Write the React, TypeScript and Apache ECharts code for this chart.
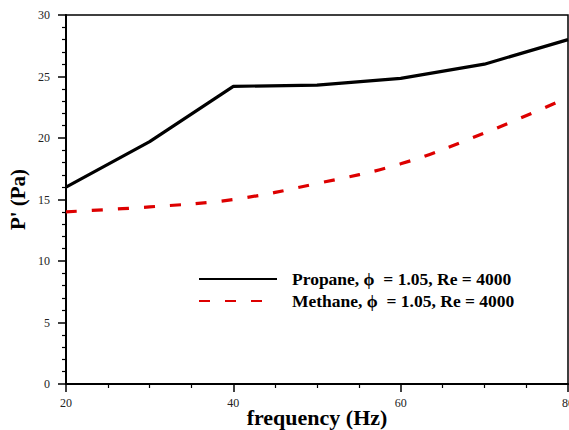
import React, { useEffect, useRef } from "react";
import * as echarts from "echarts";

const frequency = [20, 30, 40, 50, 60, 70, 80];
const propane = [16.0, 19.7, 24.2, 24.3, 24.85, 26.0, 28.0];
const methane = [14.0, 14.4, 15.0, 16.3, 17.9, 20.4, 23.3];
const seriesNames = [
  "Propane, \u03D5\u00A0 = 1.05, Re = 4000",
  "Methane, \u03D5\u00A0 = 1.05, Re = 4000",
];

const FONT = "'Liberation Serif', 'DejaVu Serif', serif";

export default function App() {
  const ref = useRef<HTMLDivElement>(null);
  useEffect(() => {
    if (!ref.current) return;
    const chart = echarts.init(ref.current, null, { renderer: "svg" });
    chart.setOption({
      animation: false,
      backgroundColor: "#ffffff",
      grid: {
        left: 66,
        right: 1,
        top: 15,
        bottom: 46,
        outerBoundsMode: "none",
        containLabel: false,
        show: true,
        borderColor: "#000",
        borderWidth: 1.5,
        backgroundColor: "transparent",
      },
      legend: {
        orient: "vertical",
        left: 198,
        top: 270,
        padding: 0,
        itemWidth: 78,
        itemHeight: 14,
        itemGap: 4,
        data: seriesNames,
        itemStyle: { opacity: 0 },
        textStyle: {
          fontFamily: FONT,
          fontWeight: "bold",
          fontSize: 17.5,
          color: "#000",
          padding: [0, 0, 0, 10],
        },
      },
      xAxis: {
        type: "value",
        min: 20,
        max: 80,
        interval: 20,
        name: "frequency (Hz)",
        nameLocation: "middle",
        nameGap: 33,
        nameMoveOverlap: false,
        nameTextStyle: {
          fontFamily: FONT,
          fontWeight: "bold",
          fontSize: 22,
          color: "#000",
          verticalAlign: "middle",
        },
        axisLine: { show: true, lineStyle: { color: "#000", width: 2 } },
        axisTick: { show: true, inside: false, length: 8, lineStyle: { color: "#000", width: 1.5 } },
        minorTick: { show: true, splitNumber: 4, length: 4, lineStyle: { color: "#000", width: 1.2 } },
        splitLine: { show: false },
        axisLabel: {
          margin: 13,
          fontFamily: FONT,
          fontSize: 12,
          color: "#222",
        },
      },
      yAxis: {
        type: "value",
        min: 0,
        max: 30,
        interval: 5,
        name: "P' (Pa)",
        nameLocation: "middle",
        nameGap: 48,
        nameMoveOverlap: false,
        nameTextStyle: {
          fontFamily: FONT,
          fontWeight: "bold",
          fontSize: 21,
          color: "#000",
          verticalAlign: "middle",
        },
        axisLine: { show: true, lineStyle: { color: "#000", width: 2 } },
        axisTick: { show: true, inside: false, length: 8, lineStyle: { color: "#000", width: 1.5 } },
        minorTick: { show: true, splitNumber: 5, length: 4, lineStyle: { color: "#000", width: 1.2 } },
        splitLine: { show: false },
        axisLabel: {
          margin: 16,
          fontFamily: FONT,
          fontSize: 12,
          color: "#222",
        },
      },
      series: [
        {
          name: seriesNames[0],
          type: "line",
          data: frequency.map((f, i) => [f, propane[i]]),
          showSymbol: false,
          symbol: "none",
          lineStyle: { color: "#000", width: 3.2 },
          itemStyle: { color: "#000" },
          z: 3,
        },
        {
          name: seriesNames[1],
          type: "line",
          data: frequency.map((f, i) => [f, methane[i]]),
          smooth: 0.4,
          showSymbol: false,
          symbol: "none",
          lineStyle: { color: "#dd0000", width: 3.2, type: [11, 15] },
          itemStyle: { color: "#dd0000" },
          z: 2,
        },
      ],
    });
    return () => chart.dispose();
  }, []);
  return (
    <div
      ref={ref}
      style={{ position: "fixed", left: 0, top: 0, width: 569, height: 430, background: "#fff" }}
    />
  );
}
